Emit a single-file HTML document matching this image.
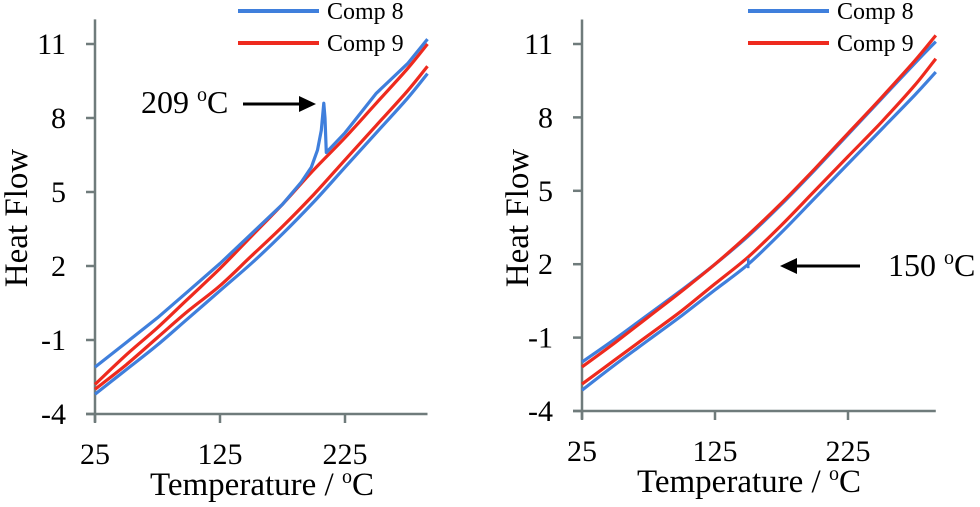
<!DOCTYPE html>
<html><head><meta charset="utf-8"><style>
body{margin:0;background:#fff}
svg{display:block;font-family:"Liberation Serif",serif}
</style></head><body>
<svg id="c" width="980" height="507" viewBox="0 0 980 507"></svg>
<script>
const temps=[25,50,75,100,125,150,175,200,225,250,275,291];
const spikeTemps=[25,50,75,100,125,150,175,190,198,203,206,208,209,210,225,250,275,291];
const leftComp8Upper=[-2.1,-1.1,-0.1,1.0,2.1,3.3,4.5,5.4,6.0,6.7,7.5,8.6,8.0,6.6,7.4,9.0,10.2,11.2];
const leftComp8Lower=[-3.2,-2.2,-1.2,-0.1,1.0,2.1,3.3,4.6,6.0,7.4,8.8,9.8];
const leftComp9Upper=[-2.8,-1.6,-0.5,0.7,1.9,3.2,4.5,5.9,7.2,8.6,10.0,11.0];
const leftComp9Lower=[-3.0,-2.0,-0.9,0.2,1.2,2.4,3.6,4.9,6.3,7.7,9.1,10.1];
const rightComp8Upper=[-2.0,-1.05,-0.05,0.95,2.0,3.15,4.45,5.85,7.3,8.75,10.2,11.1];
const rightComp8Lower=[-3.15,-2.1,-1.1,-0.1,0.95,2.0,3.3,4.7,6.1,7.5,8.9,9.85];
const rightComp9Upper=[-2.2,-1.2,-0.15,0.9,2.0,3.2,4.5,5.9,7.35,8.8,10.3,11.35];
const rightComp9Lower=[-2.9,-1.9,-0.9,0.1,1.2,2.3,3.6,5.0,6.4,7.8,9.3,10.4];
const xTicks=[25,125,225];
const yTicks=[-4,-1,2,5,8,11];
const NS="http://www.w3.org/2000/svg";
const svg=document.getElementById('c');
function mk(t,a,p){const e=document.createElementNS(NS,t);for(const k in a)e.setAttribute(k,a[k]);(p||svg).appendChild(e);return e;}
const BLUE="#3f7fdc",RED="#ee2a1e",AX="#6f7b7b";
function smooth(pts){
  let d='M'+pts[0][0].toFixed(1)+','+pts[0][1].toFixed(1);
  for(let i=0;i<pts.length-1;i++){
    const p0=pts[i-1]||pts[i],p1=pts[i],p2=pts[i+1],p3=pts[i+2]||p2;
    const c1=[p1[0]+(p2[0]-p0[0])/6,p1[1]+(p2[1]-p0[1])/6];
    const c2=[p2[0]-(p3[0]-p1[0])/6,p2[1]-(p3[1]-p1[1])/6];
    d+='C'+c1[0].toFixed(1)+','+c1[1].toFixed(1)+' '+c2[0].toFixed(1)+','+c2[1].toFixed(1)+' '+p2[0].toFixed(1)+','+p2[1].toFixed(1);
  }
  return d;
}
function panel(o,name){
  const g=mk('g',{});
  
  
  const X=v=>o.x0+(v-25)*o.kx, Y=v=>o.y0-(v+4)*o.ky;
  const ax=mk('line',{x1:o.x0,y1:Y(12),x2:o.x0,y2:o.y0+8,stroke:AX,'stroke-width':2.5},g);
  
  const bx=mk('line',{x1:o.x0-9,y1:o.y0,x2:X(291),y2:o.y0,stroke:AX,'stroke-width':2.5},g);
  
  yTicks.forEach(v=>{
    mk('line',{x1:o.x0-9,y1:Y(v),x2:o.x0,y2:Y(v),stroke:AX,'stroke-width':2.5},g);
    const t=mk('text',{x:o.x0-29,y:Y(v)+10,'font-size':30,'text-anchor':'end'},g);t.textContent=v;
    
  });
  xTicks.forEach(v=>{
    mk('line',{x1:X(v),y1:o.y0,x2:X(v),y2:o.y0+9,stroke:AX,'stroke-width':2.5},g);
    const t=mk('text',{x:X(v),y:o.y0+50,'font-size':30,'text-anchor':'middle'},g);t.textContent=v;
    
  });
  const xt=mk('text',{x:o.x0+167,y:o.y0+81,'font-size':33,'text-anchor':'middle'},g);
  xt.innerHTML='Temperature / <tspan dy="-12" font-size="20">o</tspan><tspan dy="12">C</tspan>';
  
  const yt=mk('text',{x:0,y:0,'font-size':33,'text-anchor':'middle',transform:`translate(${o.yx},${218}) rotate(-90)`},g);
  yt.textContent='Heat Flow';
  
  o.series.forEach(s=>{
    const pts=s.t.map((t,i)=>[X(t),Y(s.v[i])]);
    const d=s.spike?s.t.map((t,i)=>(i?'L':'M')+X(t).toFixed(1)+','+Y(s.v[i]).toFixed(1)).join(''):smooth(pts);
    const p=mk('path',{d,fill:'none',stroke:s.c,'stroke-width':3.2,'stroke-linejoin':'round'},g);
    
  });
  [[BLUE,'Comp 8',11],[RED,'Comp 9',43]].forEach(([c,l,y])=>{
    const lg=mk('g',{},g);
    
    mk('line',{x1:o.lx,y1:y,x2:o.lx+81,y2:y,stroke:c,'stroke-width':4},lg);
    const t=mk('text',{x:o.lx+89,y:y+8,'font-size':24},lg);t.textContent=l;
  });
  return {X,Y,g};
}
const L=panel({x0:95,y0:414,kx:1.25,ky:74/3,lx:238,yx:27,series:[
 {t:temps,v:leftComp8Lower,c:BLUE,n:'comp8-cooling-line'},
 {t:temps,v:leftComp9Lower,c:RED,n:'comp9-cooling-line'},
 {t:temps,v:leftComp9Upper,c:RED,n:'comp9-heating-line'},
 {t:spikeTemps,v:leftComp8Upper,c:BLUE,n:'comp8-heating-line',spike:true}]},'left-panel');
const R=panel({x0:582,y0:411,kx:1.33,ky:73.4/3,lx:748,yx:528,series:[
 {t:temps,v:rightComp8Lower,c:BLUE,n:'comp8-cooling-line'},
 {t:temps,v:rightComp9Lower,c:RED,n:'comp9-cooling-line'},
 {t:temps,v:rightComp8Upper,c:BLUE,n:'comp8-heating-line'},
 {t:temps,v:rightComp9Upper,c:RED,n:'comp9-heating-line'}]},'right-panel');
const bl=mk('line',{x1:R.X(150),y1:R.Y(2.0)-6,x2:R.X(150),y2:R.Y(2.0)+4,stroke:BLUE,'stroke-width':2.5});

const a1=mk('g',{});

let t=mk('text',{x:141,y:113,'font-size':32},a1);
t.innerHTML='209 <tspan dy="-12" font-size="20">o</tspan><tspan dy="12">C</tspan>';
mk('line',{x1:243,y1:104,x2:300,y2:104,stroke:'#000','stroke-width':3},a1);
mk('polygon',{points:'316,104 299,96 299,112',fill:'#000'},a1);
const a2=mk('g',{});

t=mk('text',{x:888,y:276,'font-size':32},a2);
t.innerHTML='150 <tspan dy="-12" font-size="20">o</tspan><tspan dy="12">C</tspan>';
mk('line',{x1:795,y1:266,x2:860,y2:266,stroke:'#000','stroke-width':3},a2);
mk('polygon',{points:'780,266 797,258 797,274',fill:'#000'},a2);
</script>
</body></html>
